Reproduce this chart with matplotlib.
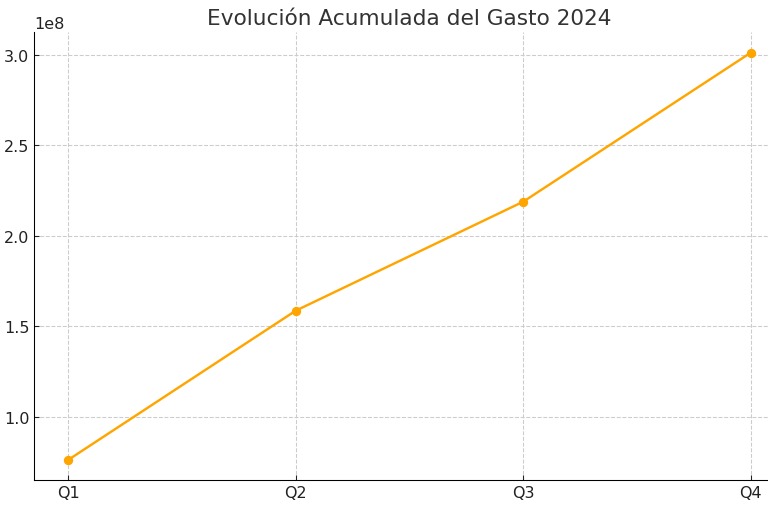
import matplotlib
matplotlib.use('Agg')
import matplotlib.pyplot as plt

# datos acumulados por trimestre
trimestres = ['Q1', 'Q2', 'Q3', 'Q4']
gasto_acumulado = [7.62e7, 1.586e8, 2.188e8, 3.011e8]

plt.rcParams['font.family'] = ['DejaVu Sans']
fig, ax = plt.subplots(figsize=(8, 5.333), dpi=96)

ax.plot(trimestres, gasto_acumulado, color='#FFA500', marker='o',
        markersize=6, linewidth=1.8)

ax.set_title('Evolución Acumulada del Gasto 2024', fontsize=16.2, color='#333333')
ax.grid(True, linestyle='--', color='#cccccc', linewidth=0.8)
ax.tick_params(direction='in', labelsize=12, colors='#222222', length=4)
ax.yaxis.get_offset_text().set_fontsize(12)
for s in ['top', 'right']:
    ax.spines[s].set_visible(False)

# el eje se sale un poco por la derecha, como en la imagen original
plt.subplots_adjust(left=0.0443, right=1.022, top=0.935, bottom=0.06)
fig.savefig('out.png', dpi=96)
